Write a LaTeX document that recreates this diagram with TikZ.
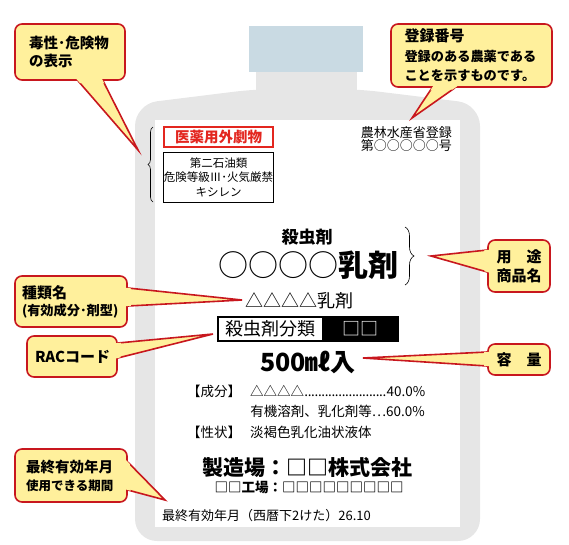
\documentclass[tikz,border=0pt]{standalone}
\usepackage{fontspec}
\newfontfamily\jp{Noto Sans CJK JP}
\usepackage{tikz}
\usetikzlibrary{calc,decorations.pathreplacing}

\definecolor{bottlegray}{HTML}{E6E6E6}
\definecolor{capblue}{HTML}{C9DAE3}
\definecolor{calloutfill}{HTML}{FFF09C}
\definecolor{calloutred}{HTML}{C8171E}
\definecolor{labelred}{HTML}{E3261F}

\newcommand{\jpsize}[2]{\fontsize{#1}{#2}\selectfont}
\newcommand{\densedots}{\cleaders\hbox to 3.4pt{\hss.\hss}\hfill}
% wedge of a callout: two base points on the box, then the tip
\newcommand{\calloutpointer}[3]{%
  \filldraw[pointer] (#1) -- (#3) -- (#2);
  \fill[calloutfill] ($(#1)!-3pt!(#3)$) -- ($(#1)!3pt!(#3)$) -- ($(#2)!3pt!(#3)$) -- ($(#2)!-3pt!(#3)$) -- cycle;}

\begin{document}
\begin{tikzpicture}[x=1pt,y=-1pt,
  callout/.style={fill=calloutfill,draw=calloutred,line width=1.6pt,rounded corners=7pt,inner ysep=0pt},
  pointer/.style={fill=calloutfill,draw=calloutred,line width=1.6pt,line join=miter},
  txt/.style={inner sep=0pt,font=\jp}]
  \useasboundingbox (0,0) rectangle (569,544);

  % bottle
  \fill[capblue] (249,26) rectangle (363,72);
  \fill[bottlegray] (256,72) rectangle (357,95);
  \fill[bottlegray,rounded corners=22pt] (135,541) -- (135,104) -- (256,89) -- (357,89) -- (480,104) -- (480,541) -- cycle;
  \fill[white] (155,120) rectangle (460,527);

  % label
  \node[draw=labelred,line width=1.3pt,minimum width=109pt,minimum height=20pt,inner sep=0pt,
        text=labelred,font={\jp\bfseries\jpsize{14.5}{14.5}}] (gekibutsu) at (218.5,137) {医薬用外劇物};
  \node[draw,line width=0.9pt,minimum width=109pt,minimum height=50pt,inner sep=0pt,align=center,
        font={\jp\jpsize{11.5}{14.5}}] (kiken) at (218.5,177) {第二石油類\\危険等級Ⅲ･火気厳禁\\キシレン};
  \draw[decorate,decoration={brace,amplitude=5pt},line width=0.6pt] (153,202) -- (153,127);

  \node[txt,anchor=east,font={\jp\jpsize{13}{13}}] (touroku) at (452,133) {農林水産省登録};
  \node[txt,anchor=east,font={\jp\jpsize{13}{13}}] (bangou) at (452,146) {第○○○○○号};

  \node[txt,font={\jp\bfseries\jpsize{17}{17}}] (youto) at (307,237) {殺虫剤};
  \node[txt,font={\jp\jpsize{30}{30}}] (shouhin) at (308,265) {○○○○{\bfseries 乳剤}};
  \draw[decorate,decoration={brace,amplitude=9pt},line width=0.6pt] (405,227) -- (405,285);
  \node[txt,font={\jp\jpsize{18}{18}}] (shurui) at (299,301) {△△△△乳剤};

  \node[draw,line width=1.2pt,minimum width=105pt,minimum height=24pt,inner sep=0pt,
        font={\jp\jpsize{18}{18}}] (rac) at (270.5,329) {殺虫剤分類};
  \node[fill=black,draw=black,line width=1.2pt,minimum width=75pt,minimum height=24pt,inner sep=0pt,
        text=white,font={\jp\jpsize{18}{18}}] (raccode) at (360.5,329) {□□};

  \node[txt,font={\jp\bfseries\jpsize{25}{25}}] (youryou) at (308,362) {500㎖入};

  \node[txt,anchor=west,font={\jp\jpsize{13.5}{13.5}}] (seibun) at (187,391) {【成分】};
  \node[txt,anchor=west,font={\jp\jpsize{13.5}{13.5}}] (seibun1) at (250,391) {\hbox to 175pt{△△△△\densedots 40.0\%}};
  \node[txt,anchor=east,font={\jp\jpsize{13.5}{13.5}}] (seibun2) at (425,411) {有機溶剤、乳化剤等…60.0\%};
  \node[txt,anchor=west,font={\jp\jpsize{13.5}{13.5}}] (seijou) at (187,432) {【性状】};
  \node[txt,anchor=west,font={\jp\jpsize{13.5}{13.5}}] (seijou1) at (250,432) {淡褐色乳化油状液体};

  \node[txt,font={\jp\bfseries\jpsize{21}{21}}] (seizou) at (307,468) {製造場：□□株式会社};
  \node[txt,font={\jp\bfseries\jpsize{13.5}{13.5}}] (koujou) at (309,487) {□□工場：□□□□□□□□□};
  \node[txt,anchor=west,font={\jp\jpsize{13}{13}}] (kigen) at (162,516) {最終有効年月（西暦下2けた）26.10};

  % callouts
  \node[callout,text width=82pt,inner xsep=14pt,minimum height=56pt,align=left,
        font={\jp\bfseries\jpsize{14.5}{18}}] (doku) at (70,52) {毒性･危険物\\の表示};
  \coordinate (dokutip) at (138,150);
  \coordinate (doku1) at ($(doku.south)+(8,0)$);
  \coordinate (doku2) at ($(doku.south)+(33,0)$);
  \calloutpointer{doku1}{doku2}{dokutip}

  \node[callout,text width=134pt,inner xsep=13.5pt,minimum height=63pt,align=left,
        font={\jp\bfseries\jpsize{13.2}{19.5}}] (bangoucall) at (471.5,55.5)
        {{\jpsize{15}{19.5}登録番号}\\登録のある農薬である\\ことを示すものです。};
  \coordinate (bangoutip) at (412,118);
  \coordinate (bangou1) at ($(bangoucall.south)+(-39.5,0)$);
  \coordinate (bangou2) at ($(bangoucall.south)+(-16.5,0)$);
  \calloutpointer{bangou1}{bangou2}{bangoutip}

  \node[callout,text width=98pt,inner xsep=7pt,minimum height=51pt,align=left,
        font={\jp\bfseries\jpsize{13.2}{17}}] (shuruicall) at (71,301.5)
        {{\jpsize{15}{17}種類名}\\(有効成分･剤型)};
  \coordinate (shuruitip) at (242,300);
  \coordinate (shurui1) at ($(shuruicall.east)+(0,-13.5)$);
  \coordinate (shurui2) at ($(shuruicall.east)+(0,4.5)$);
  \calloutpointer{shurui1}{shurui2}{shuruitip}

  \node[callout,text width=74pt,inner xsep=8pt,minimum height=41pt,align=center,
        font={\jp\bfseries\jpsize{15}{15}}] (raccall) at (72,356.5) {RACコード};
  \coordinate (ractip) at (213,334);
  \coordinate (rac1) at ($(raccall.east)+(0,-13.5)$);
  \coordinate (rac2) at ($(raccall.east)+(0,1.5)$);
  \calloutpointer{rac1}{rac2}{ractip}

  \node[callout,text width=50pt,inner xsep=6pt,minimum height=52pt,align=center,
        font={\jp\bfseries\jpsize{15}{19}}] (youtocall) at (519,266) {用　途\\商品名};
  \coordinate (youtotip) at (431,256);
  \coordinate (youto1) at ($(youtocall.west)+(0,-16)$);
  \coordinate (youto2) at ($(youtocall.west)+(0,6)$);
  \calloutpointer{youto1}{youto2}{youtotip}

  \node[callout,text width=50pt,inner xsep=6pt,minimum height=31pt,align=center,
        font={\jp\bfseries\jpsize{15}{15}}] (youryoucall) at (519,359.5) {容　量};
  \coordinate (youryoutip) at (363,358);
  \coordinate (youryou1) at ($(youryoucall.west)+(0,-7.5)$);
  \coordinate (youryou2) at ($(youryoucall.west)+(0,6.5)$);
  \calloutpointer{youryou1}{youryou2}{youryoutip}

  \node[callout,text width=90pt,inner xsep=11pt,minimum height=53pt,align=left,
        font={\jp\bfseries\jpsize{12.5}{18}}] (kigencall) at (71,475.5)
        {{\jpsize{14.5}{18}最終有効年月}\\使用できる期間};
  \coordinate (kigentip) at (165,500);
  \coordinate (kigen1) at ($(kigencall.east)+(0,-13.5)$);
  \coordinate (kigen2) at ($(kigencall.east)+(0,14.5)$);
  \calloutpointer{kigen1}{kigen2}{kigentip}
\end{tikzpicture}
\end{document}
